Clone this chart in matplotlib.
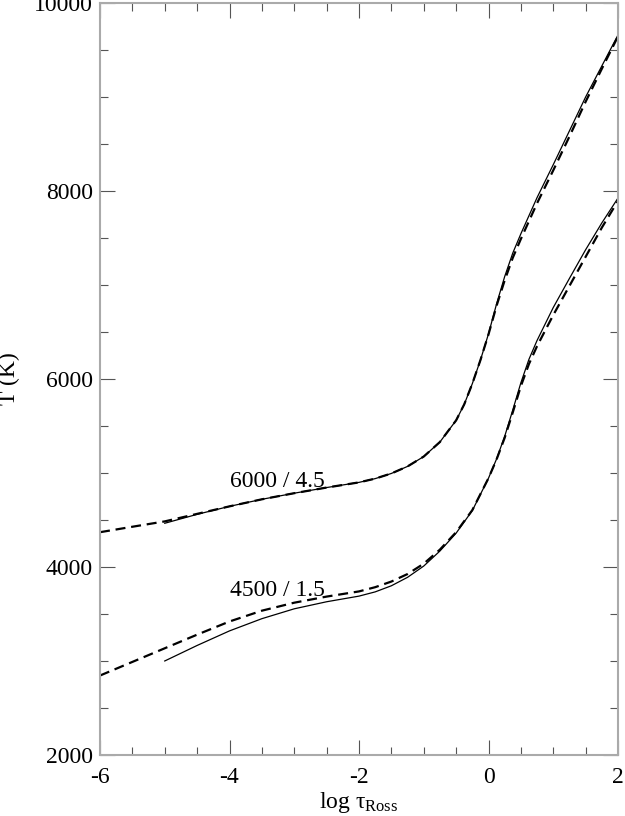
import matplotlib
matplotlib.use("Agg")
import matplotlib.pyplot as plt
from matplotlib.ticker import MultipleLocator

plt.rcParams['font.family'] = ['Liberation Serif', 'DejaVu Serif']
plt.rcParams['mathtext.fontset'] = 'custom'
plt.rcParams['mathtext.rm'] = 'Liberation Serif'
plt.rcParams['mathtext.it'] = 'Liberation Serif'
plt.rcParams['mathtext.bf'] = 'Liberation Serif:bold'
plt.rcParams['axes.unicode_minus'] = False

# ---- 6000 / 4.5 model ----
tau_6000_solid = [-5, -4.5, -4, -3.5, -3, -2.5, -2, -1.75, -1.5, -1.25, -1, -0.75, -0.5,
                  -0.375, -0.25, -0.125, 0, 0.125, 0.25, 0.375, 0.5, 0.75, 1, 1.25, 1.5, 1.75, 2]
T_6000_solid = [4465, 4560, 4645, 4720, 4785, 4845, 4900, 4940, 4995, 5070, 5175, 5330, 5560,
                5730, 5950, 6200, 6480, 6800, 7090, 7340, 7545, 7930, 8280, 8640, 9000, 9330, 9660]

tau_6000_dash = [-6, -5.5, -5, -4.5, -4, -3.5, -3, -2.5, -2, -1.75, -1.5, -1.25, -1, -0.75, -0.5,
                 -0.375, -0.25, -0.125, 0, 0.125, 0.25, 0.375, 0.5, 0.75, 1, 1.25, 1.5, 1.75, 2]
T_6000_dash = [4370, 4428, 4485, 4565, 4645, 4720, 4785, 4845, 4900, 4940, 4995, 5070, 5175, 5330, 5560,
               5730, 5950, 6200, 6475, 6780, 7050, 7290, 7490, 7870, 8220, 8580, 8950, 9300, 9645]

# ---- 4500 / 1.5 model ----
tau_4500_solid = [-5, -4.5, -4, -3.5, -3, -2.5, -2, -1.75, -1.5, -1.25, -1, -0.75, -0.5, -0.25,
                  0, 0.125, 0.25, 0.375, 0.5, 0.625, 0.75, 1, 1.25, 1.5, 1.75, 2]
T_4500_solid = [3000, 3165, 3320, 3450, 3555, 3630, 3690, 3735, 3800, 3890, 4010, 4170, 4360, 4600,
                4945, 5150, 5390, 5670, 5960, 6210, 6410, 6760, 7070, 7375, 7660, 7925]

tau_4500_dash = [-6, -5.5, -5, -4.5, -4, -3.5, -3, -2.5, -2, -1.75, -1.5, -1.25, -1, -0.75, -0.5, -0.25,
                 0, 0.125, 0.25, 0.375, 0.5, 0.625, 0.75, 1, 1.25, 1.5, 1.75, 2]
T_4500_dash = [2845, 2990, 3135, 3280, 3420, 3535, 3620, 3685, 3740, 3785, 3845, 3925, 4035, 4185, 4370, 4605,
               4945, 5145, 5375, 5645, 5925, 6160, 6350, 6680, 6990, 7300, 7610, 7895]

labels = ["6000 / 4.5", "4500 / 1.5"]
label_pos = [(-4.0, 4850), (-4.0, 3690)]

fig = plt.figure(figsize=(6.25, 8.16), dpi=100)
ax = fig.add_axes([0.16, 0.0748, 0.8288, 0.9215])

ax.plot(tau_6000_solid, T_6000_solid, color='black', lw=0.9)
ax.plot(tau_6000_dash, T_6000_dash, color='black', lw=1.6, dashes=(4.5, 2.6))
ax.plot(tau_4500_solid, T_4500_solid, color='black', lw=0.9)
ax.plot(tau_4500_dash, T_4500_dash, color='black', lw=1.6, dashes=(4.5, 2.6))

for lab, (lx, ly) in zip(labels, label_pos):
    ax.text(lx, ly, lab, fontsize=17, ha='left', va='baseline')

ax.set_xlim(-6, 2)
ax.set_ylim(2000, 10000)
ax.xaxis.set_major_locator(MultipleLocator(2))
ax.xaxis.set_minor_locator(MultipleLocator(0.5))
ax.yaxis.set_major_locator(MultipleLocator(2000))
ax.yaxis.set_minor_locator(MultipleLocator(500))

ax.tick_params(which='both', direction='in', top=True, right=True, color='#555555', width=0.8)
ax.tick_params(which='major', length=11, labelsize=17)
ax.tick_params(axis='x', which='major', pad=9)
ax.tick_params(axis='y', which='major', pad=5)
ax.tick_params(which='minor', length=5.5)
for s in ax.spines.values():
    s.set_color('#aaaaaa')
    s.set_linewidth(1.5)

ax.set_xlabel(r'log $\tau_{\mathrm{Ross}}$', fontsize=17, labelpad=1)
ax.set_ylabel('T (K)', fontsize=17, labelpad=10)

fig.savefig('out.png', dpi=100)
